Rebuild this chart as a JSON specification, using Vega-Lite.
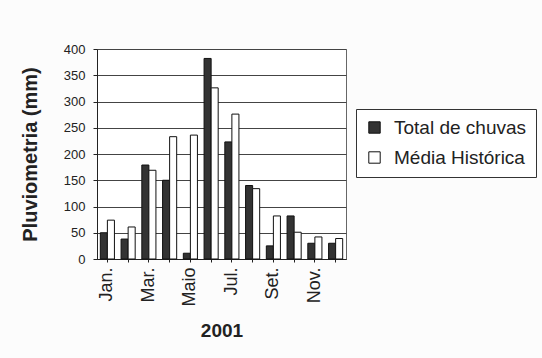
{
  "$schema": "https://vega.github.io/schema/vega-lite/v6.json",
  "width": 249,
  "height": 210,
  "autosize": "none",
  "padding": {"left": 97, "top": 49, "right": 196, "bottom": 99},
  "background": "#fcfcfc",
  "config": {
    "font": "Liberation Sans",
    "view": {"stroke": "#666666", "strokeWidth": 1, "fill": "#ffffff"}
  },
  "data": {
    "values": [
      {"mes": "Jan.", "serie": "Total de chuvas", "valor": 50},
      {"mes": "Jan.", "serie": "Média Histórica", "valor": 74},
      {"mes": "Fev.", "serie": "Total de chuvas", "valor": 38},
      {"mes": "Fev.", "serie": "Média Histórica", "valor": 61},
      {"mes": "Mar.", "serie": "Total de chuvas", "valor": 179},
      {"mes": "Mar.", "serie": "Média Histórica", "valor": 169},
      {"mes": "Abr.", "serie": "Total de chuvas", "valor": 150},
      {"mes": "Abr.", "serie": "Média Histórica", "valor": 233},
      {"mes": "Maio", "serie": "Total de chuvas", "valor": 11},
      {"mes": "Maio", "serie": "Média Histórica", "valor": 236},
      {"mes": "Jun.", "serie": "Total de chuvas", "valor": 382},
      {"mes": "Jun.", "serie": "Média Histórica", "valor": 326},
      {"mes": "Jul.", "serie": "Total de chuvas", "valor": 223},
      {"mes": "Jul.", "serie": "Média Histórica", "valor": 276},
      {"mes": "Ago.", "serie": "Total de chuvas", "valor": 140},
      {"mes": "Ago.", "serie": "Média Histórica", "valor": 134},
      {"mes": "Set.", "serie": "Total de chuvas", "valor": 25},
      {"mes": "Set.", "serie": "Média Histórica", "valor": 82},
      {"mes": "Out.", "serie": "Total de chuvas", "valor": 82},
      {"mes": "Out.", "serie": "Média Histórica", "valor": 51},
      {"mes": "Nov.", "serie": "Total de chuvas", "valor": 30},
      {"mes": "Nov.", "serie": "Média Histórica", "valor": 42},
      {"mes": "Dez.", "serie": "Total de chuvas", "valor": 30},
      {"mes": "Dez.", "serie": "Média Histórica", "valor": 39}
    ]
  },
  "mark": {"type": "bar", "stroke": "#111111", "strokeWidth": 1},
  "encoding": {
    "x": {
      "field": "mes",
      "type": "nominal",
      "sort": ["Jan.", "Fev.", "Mar.", "Abr.", "Maio", "Jun.", "Jul.", "Ago.", "Set.", "Out.", "Nov.", "Dez."],
      "scale": {"paddingInner": 0.32, "paddingOuter": 0.16},
      "axis": {
        "title": "2001",
        "titleFontSize": 19,
        "titleFontWeight": "bold",
        "titleColor": "#222222",
        "titleBaseline": "top",
        "titleY": 62,
        "labelExpr": "indexof(['Jan.','Mar.','Maio','Jul.','Set.','Nov.'], datum.value) >= 0 ? datum.value : ''",
        "labelAngle": -90,
        "labelAlign": "right",
        "labelBaseline": "middle",
        "labelFontSize": 18,
        "labelColor": "#222222",
        "labelPadding": 5,
        "tickSize": 3,
        "tickColor": "#222222",
        "domainColor": "#222222"
      }
    },
    "xOffset": {
      "field": "serie",
      "sort": ["Total de chuvas", "Média Histórica"]
    },
    "y": {
      "field": "valor",
      "type": "quantitative",
      "scale": {"domain": [0, 400]},
      "axis": {
        "title": "Pluviometria (mm)",
        "titleFontSize": 20,
        "titleFontWeight": "bold",
        "titleColor": "#222222",
        "titleX": -57,
        "values": [0, 50, 100, 150, 200, 250, 300, 350, 400],
        "labelFontSize": 13,
        "labelColor": "#222222",
        "labelPadding": 8,
        "tickSize": 4,
        "tickColor": "#222222",
        "domainColor": "#222222",
        "grid": true,
        "gridColor": "#444444",
        "gridWidth": 1
      }
    },
    "color": {
      "field": "serie",
      "type": "nominal",
      "scale": {"domain": ["Total de chuvas", "Média Histórica"], "range": ["#333333", "#ffffff"]},
      "legend": {
        "title": null,
        "orient": "none",
        "legendX": 259,
        "legendY": 60,
        "strokeColor": "#333333",
        "fillColor": "#ffffff",
        "padding": 9,
        "rowPadding": 10,
        "labelFontSize": 19,
        "labelColor": "#222222",
        "labelOffset": 10,
        "symbolType": "square",
        "symbolSize": 130,
        "symbolStrokeColor": "#111111",
        "symbolStrokeWidth": 1
      }
    }
  }
}
